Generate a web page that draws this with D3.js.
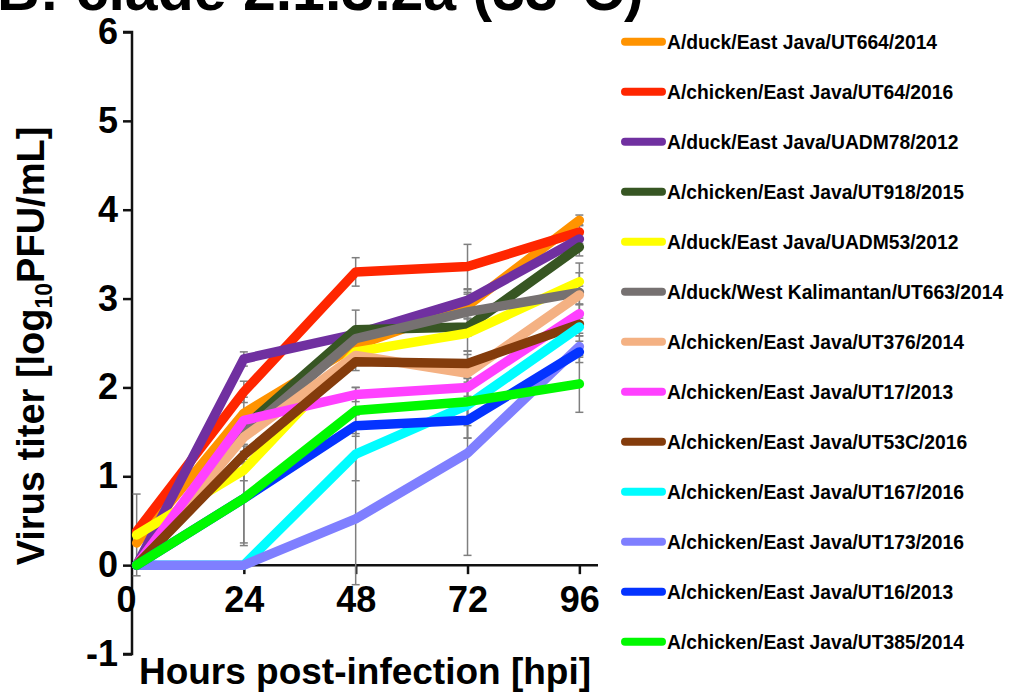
<!DOCTYPE html>
<html>
<head>
<meta charset="utf-8">
<script src="https://cdn.jsdelivr.net/npm/d3@7"></script>
<style>
  html, body { margin: 0; padding: 0; background: #fff; }
  svg { display: block; font-family: "Liberation Sans", Arial, Helvetica, sans-serif; font-weight: bold; }
</style>
</head>
<body>
<svg id="chart" width="1011" height="696"></svg>
<script>
// Sampling times (hours post-infection)
const hours = [1, 24, 48, 72, 96];
const xTicks = [0, 24, 48, 72, 96];
const yTicks = [-1, 0, 1, 2, 3, 4, 5, 6];

// Strain names, in legend order
const strains = [
  "A/duck/East Java/UT664/2014",
  "A/chicken/East Java/UT64/2016",
  "A/duck/East Java/UADM78/2012",
  "A/chicken/East Java/UT918/2015",
  "A/duck/East Java/UADM53/2012",
  "A/duck/West Kalimantan/UT663/2014",
  "A/chicken/East Java/UT376/2014",
  "A/chicken/East Java/UT17/2013",
  "A/chicken/East Java/UT53C/2016",
  "A/chicken/East Java/UT167/2016",
  "A/chicken/East Java/UT173/2016",
  "A/chicken/East Java/UT16/2013",
  "A/chicken/East Java/UT385/2014"
];

// Mean virus titers (log10 PFU/mL) per strain
const ut664  = [0.25, 1.71, 2.47, 2.92, 3.88];
const ut64   = [0.38, 1.95, 3.30, 3.36, 3.75];
const uadm78 = [0, 2.32, 2.60, 2.98, 3.67];
const ut918  = [0, 1.55, 2.65, 2.68, 3.58];
const uadm53 = [0.34, 1.07, 2.40, 2.61, 3.19];
const ut663  = [0, 1.48, 2.55, 2.85, 3.07];
const ut376  = [0, 1.44, 2.36, 2.16, 3.04];
const ut17   = [0, 1.63, 1.92, 2.00, 2.83];
const ut53c  = [0, 1.24, 2.29, 2.27, 2.71];
const ut167  = [0, 0, 1.25, 1.80, 2.68];
const ut173  = [0, 0, 0.52, 1.26, 2.46];
const ut16   = [0, 0.75, 1.57, 1.63, 2.40];
const ut385  = [0, 0.75, 1.74, 1.84, 2.04];

// Standard deviations per strain
const sdUt664  = [0, 0.18, 0.10, 0.15, 0.06];
const sdUt64   = [0, 0.12, 0.16, 0.25, 0.08];
const sdUadm78 = [0, 0.08, 0.06, 0.12, 0.05];
const sdUt918  = [0, 0.10, 0.22, 0.10, 0.10];
const sdUadm53 = [0.46, 0.12, 0.10, 0.20, 0.10];
const sdUt663  = [0, 0.12, 0.10, 0.20, 0.33];
const sdUt376  = [0, 0.28, 0.10, 0.10, 0.10];
const sdUt17   = [0, 0.10, 0.08, 0.10, 0.10];
const sdUt53c  = [0, 0.10, 0.10, 0.10, 0.10];
const sdUt167  = [0, 0, 0.30, 0.37, 0.10];
const sdUt173  = [0, 0, 0.74, 1.15, 0.12];
const sdUt16   = [0, 0.53, 0.12, 0.20, 0.12];
const sdUt385  = [0, 0.50, 0.26, 0.27, 0.32];

const means = [ut664, ut64, uadm78, ut918, uadm53, ut663, ut376, ut17, ut53c, ut167, ut173, ut16, ut385];
const sds = [sdUt664, sdUt64, sdUadm78, sdUt918, sdUadm53, sdUt663, sdUt376, sdUt17, sdUt53c, sdUt167, sdUt173, sdUt16, sdUt385];

const colors = ["#FF9300", "#FF2600", "#7030A0", "#375623", "#FFFF00", "#767171", "#F4B183",
                "#FF40FF", "#843C0C", "#00FDFF", "#7F7FFF", "#0433FF", "#00F900"];

const svg = d3.select("#chart");
svg.append("rect").attr("width", 1011).attr("height", 696).attr("fill", "#fff");

const x = d3.scaleLinear().domain([0, 100]).range([132, 598]);
const y = d3.scaleLinear().domain([-1, 6]).range([654, 32]);

// Panel title (runs off the top edge)
svg.append("text")
  .attr("x", -3).attr("y", 10)
  .attr("font-size", 59)
  .text("B: clade 2.1.3.2a (33°C)");

// Axes
const yAxis = svg.append("g")
  .attr("transform", `translate(${x(0)},0)`)
  .call(d3.axisLeft(y).tickValues(yTicks).tickSize(9).tickPadding(5).tickFormat(d => String(d)));
const xAxis = svg.append("g")
  .attr("transform", `translate(0,${y(0)})`)
  .call(d3.axisBottom(x).tickValues(xTicks).tickSize(9).tickPadding(12).tickFormat(d => String(d)));

[yAxis, xAxis].forEach(g => {
  g.select(".domain").attr("stroke", "#111").attr("stroke-width", 2.5);
  g.selectAll(".tick line").attr("stroke", "#111").attr("stroke-width", 2.5);
  g.selectAll(".tick text").attr("fill", "#000").attr("font-size", 36)
    .attr("font-family", null).attr("font-weight", "bold");
});
yAxis.select(".domain").attr("d", `M-9,${y(6)}H0V${y(-1)}H-9`);
xAxis.select(".domain").attr("d", `M${x(0)},0H${x(100)}`);
xAxis.selectAll(".tick").filter(d => d === 0).select("line").remove();
xAxis.selectAll(".tick").filter(d => d === 0).select("text").attr("dx", -6);

// Error bars (behind the lines)
const errG = svg.append("g").attr("stroke", "#7f7f7f").attr("stroke-width", 1.5).attr("fill", "none");
means.forEach((m, i) => {
  m.forEach((v, j) => {
    const sd = sds[i][j];
    if (!sd) return;
    const cx = x(hours[j]);
    const y1 = y(v - sd), y2 = y(v + sd);
    errG.append("line").attr("x1", cx).attr("x2", cx).attr("y1", y1).attr("y2", y2);
    errG.append("line").attr("x1", cx - 4).attr("x2", cx + 4).attr("y1", y1).attr("y2", y1);
    errG.append("line").attr("x1", cx - 4).attr("x2", cx + 4).attr("y1", y2).attr("y2", y2);
  });
});

// Titer curves
const line = d3.line().x((d, j) => x(hours[j])).y(d => y(d));
const linesG = svg.append("g");
means.forEach((m, i) => {
  linesG.append("path")
    .attr("d", line(m))
    .attr("fill", "none")
    .attr("stroke", colors[i])
    .attr("stroke-width", 9.5)
    .attr("stroke-linejoin", "round")
    .attr("stroke-linecap", "round");
});

// Axis titles
svg.append("text")
  .attr("x", 365).attr("y", 684)
  .attr("text-anchor", "middle")
  .attr("font-size", 37)
  .text("Hours post-infection [hpi]");

const yTitle = svg.append("text")
  .attr("transform", "translate(44,346) rotate(-90)")
  .attr("text-anchor", "middle")
  .attr("font-size", 38);
yTitle.append("tspan").text("Virus titer [log");
yTitle.append("tspan").attr("font-size", 23).attr("dy", 8).text("10");
yTitle.append("tspan").attr("dy", -8).text("PFU/mL]");

// Legend
const legend = svg.append("g");
strains.forEach((name, i) => {
  const cy = 41.7 + i * 50;
  legend.append("line")
    .attr("x1", 625).attr("x2", 662)
    .attr("y1", cy).attr("y2", cy)
    .attr("stroke", colors[i]).attr("stroke-width", 8).attr("stroke-linecap", "round");
  legend.append("text")
    .attr("x", 667).attr("y", cy).attr("dy", "0.36em")
    .attr("font-size", 19.3)
    .text(name);
});
</script>
</body>
</html>
